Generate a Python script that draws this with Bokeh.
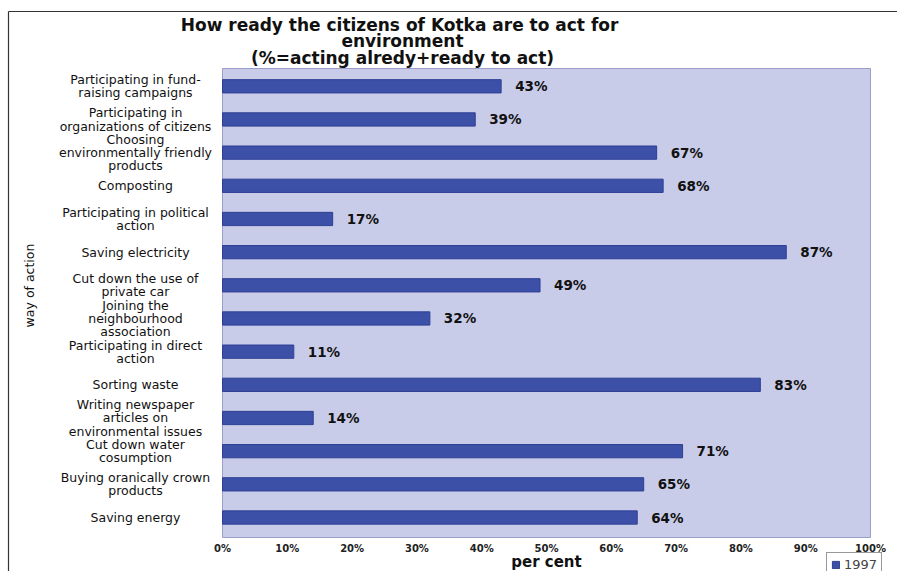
from bokeh.plotting import figure
from bokeh.models import Range1d, Legend, LegendItem, ColumnDataSource
from bokeh.core.properties import value
from bokeh.embed import file_html
from bokeh.resources import INLINE
import math

actions = [
    "Participating in fund-\nraising campaigns",
    "Participating in\norganizations of citizens",
    "Choosing\nenvironmentally friendly\nproducts",
    "Composting",
    "Participating in political\naction",
    "Saving electricity",
    "Cut down the use of\nprivate car",
    "Joining the\nneighbourhood\nassociation",
    "Participating in direct\naction",
    "Sorting waste",
    "Writing newspaper\narticles on\nenvironmental issues",
    "Cut down water\ncosumption",
    "Buying oranically crown\nproducts",
    "Saving energy",
]
percent_1997 = [43, 39, 67, 68, 17, 87, 49, 32, 11, 83, 14, 71, 65, 64]
x_ticks = [0, 10, 20, 30, 40, 50, 60, 70, 80, 90, 100]
title_lines = [
    "How ready  the citizens of Kotka are to act for",
    "environment",
    "(%=acting alredy+ready to act)",
]
series_name = "1997"

# ---- layout (pixels of the canvas) ----
W, H = 897, 571
X0_PX, X100_PX = 222, 870          # 0% and 100% positions
Y_LAST_PX, STEP_PX = 517, 33.17    # centre of bottom category, category spacing
PPX = (X100_PX - X0_PX) / 100.0


def px2x(px):
    return (px - X0_PX) / PPX


def px2y(py):
    return (Y_LAST_PX - py) / STEP_PX


n = len(actions)
ypos = [n - 1 - i for i in range(n)]
src = ColumnDataSource(dict(y=ypos, v=percent_1997,
                            lab=[f"{v}%" for v in percent_1997],
                            name=actions))

SANS = "DejaVu Sans"
p = figure(width=W, height=H, output_backend="svg", toolbar_location=None,
           x_range=Range1d(px2x(0), px2x(W)), y_range=Range1d(px2y(H), px2y(0)),
           min_border=0, x_axis_type=None, y_axis_type=None)
p.outline_line_color = None
p.background_fill_color = "white"
p.border_fill_color = "white"
p.xgrid.visible = False
p.ygrid.visible = False

# plot area
y_bot, y_top = px2y(537), px2y(68)
p.quad(left=[0], right=[100], bottom=[y_bot], top=[y_top],
       fill_color="#c9cce9", line_color="#9a9ec8", line_width=1)

# frame lines of the chart
p.segment(x0=[px2x(8), px2x(8)], y0=[px2y(11), px2y(11)],
          x1=[px2x(8), px2x(W)], y1=[px2y(H), px2y(11)],
          line_color="#333333", line_width=1.2)

bars = p.hbar(y="y", right="v", left=0, height=0.4, source=src,
              fill_color="#3d50a8", line_color="#2e3f93", line_width=1)
p.text(x="v", y="y", text="lab", source=src, x_offset=14,
       text_baseline="middle", text_align="left",
       text_font=value(SANS), text_font_style="bold", text_font_size="13.5px",
       text_color="#111111")

# category labels
p.text(x=px2x(135), y="y", text="name", source=src,
       text_align="center", text_baseline="middle",
       text_font=value(SANS), text_font_size="12.5px", text_line_height=0.88,
       text_color="#111111")

# x tick labels
p.text(x=x_ticks, y=[px2y(548)] * len(x_ticks), text=[f"{t}%" for t in x_ticks],
       text_align="center", text_baseline="middle",
       text_font=value(SANS), text_font_style="bold", text_font_size="10px",
       text_color="#222222")

# axis titles
p.text(x=[50], y=[px2y(561)], text=["per cent"], text_align="center",
       text_baseline="middle", text_font=value(SANS), text_font_style="bold",
       text_font_size="15px", text_color="#111111")
p.text(x=[px2x(29)], y=[px2y(285)], text=["way of action"], angle=math.pi / 2,
       text_align="center", text_baseline="middle", text_font=value(SANS),
       text_font_size="12.5px", text_color="#111111")

# title
p.text(x=[px2x(402)] * 3, y=[px2y(24), px2y(40.5), px2y(57)], text=title_lines,
       text_align="center", text_baseline="middle", text_font=value(SANS),
       text_font_style="bold", text_font_size="17px", text_color="#111111")

legend = Legend(items=[LegendItem(label=series_name, renderers=[bars])],
                location=(826, -6), label_text_font=SANS, label_text_font_size="13px",
                glyph_width=9, glyph_height=9, padding=4, spacing=0, margin=0,
                border_line_color="#333333", label_standoff=4,
                background_fill_color="white", label_height=14)
p.add_layout(legend)

open("out.html", "w").write(file_html(p, INLINE))
